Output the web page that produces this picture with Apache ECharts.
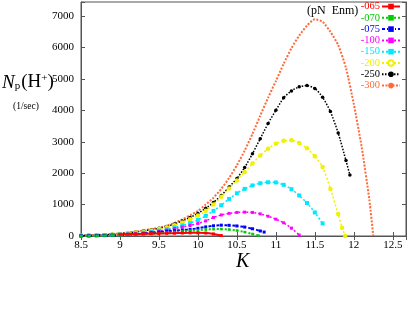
<!DOCTYPE html>
<html>
<head>
<meta charset="utf-8">
<script src="https://cdn.jsdelivr.net/npm/echarts@6/dist/echarts.min.js"></script>
<style>
  html, body { margin: 0; padding: 0; background: #fff; }
  #chart { width: 409px; height: 328px; }
</style>
</head>
<body>
<div id="chart"></div>
<script>
// K values and proton flux N_p(H+) (1/sec) for each (pN Enm) case
const k065 = [9.0, 9.1, 9.2, 9.3, 9.4, 9.5, 9.6, 9.7, 9.8, 9.9, 10.0, 10.1, 10.2, 10.3]
const n065 = [55, 60, 65, 70, 75, 80, 85, 90, 95, 100, 100, 95, 65, 15]

const k070 = [8.5, 8.6, 8.7, 8.8, 8.9, 9.0, 9.1, 9.2, 9.3, 9.4, 9.5, 9.6, 9.7, 9.8, 9.9, 10.0, 10.1, 10.2, 10.3, 10.4, 10.5, 10.6, 10.7, 10.78]
const n070 = [4, 6, 9, 13, 18, 24, 32, 42, 55, 70, 88, 105, 125, 145, 165, 185, 205, 218, 220, 205, 175, 125, 65, 10]

const k075 = [8.5, 8.6, 8.7, 8.8, 8.9, 9.0, 9.1, 9.2, 9.3, 9.4, 9.5, 9.6, 9.7, 9.8, 9.9, 10.0, 10.1, 10.2, 10.3, 10.4, 10.5, 10.6, 10.7, 10.8, 10.85]
const n075 = [5, 8, 12, 17, 23, 30, 40, 55, 75, 100, 125, 150, 170, 190, 210, 245, 290, 325, 345, 340, 320, 285, 230, 160, 125]

const k100 = [8.5, 8.6, 8.7, 8.8, 8.9, 9.0, 9.1, 9.2, 9.3, 9.4, 9.5, 9.6, 9.7, 9.8, 9.9, 10.0, 10.1, 10.2, 10.3, 10.4, 10.5, 10.6, 10.7, 10.8, 10.9, 11.0, 11.1, 11.2, 11.3]
const n100 = [6, 10, 15, 21, 29, 39, 52, 70, 92, 120, 152, 190, 235, 285, 335, 400, 480, 590, 670, 720, 750, 760, 750, 705, 630, 535, 420, 250, 30]

const k150 = [8.5, 8.6, 8.7, 8.8, 8.9, 9.0, 9.1, 9.2, 9.3, 9.4, 9.5, 9.6, 9.7, 9.8, 9.9, 10.0, 10.1, 10.2, 10.3, 10.4, 10.5, 10.6, 10.7, 10.8, 10.9, 11.0, 11.1, 11.2, 11.3, 11.4, 11.5, 11.6]
const n150 = [8, 13, 19, 27, 37, 50, 65, 84, 107, 135, 170, 215, 270, 335, 410, 510, 640, 800, 980, 1180, 1360, 1500, 1610, 1680, 1710, 1705, 1630, 1490, 1290, 1050, 750, 400]

const k200 = [8.5, 8.6, 8.7, 8.8, 8.9, 9.0, 9.1, 9.2, 9.3, 9.4, 9.5, 9.6, 9.7, 9.8, 9.9, 10.0, 10.1, 10.2, 10.3, 10.4, 10.5, 10.6, 10.7, 10.8, 10.9, 11.0, 11.1, 11.2, 11.3, 11.4, 11.5, 11.6, 11.7, 11.8, 11.85, 11.89]
const n200 = [10, 17, 25, 35, 48, 64, 84, 108, 138, 175, 220, 275, 345, 430, 530, 650, 800, 1000, 1250, 1510, 1770, 2040, 2310, 2560, 2780, 2940, 3030, 3050, 2960, 2790, 2540, 2200, 1500, 700, 260, 0]

const k250 = [8.5, 8.6, 8.7, 8.8, 8.9, 9.0, 9.1, 9.2, 9.3, 9.4, 9.5, 9.6, 9.7, 9.8, 9.9, 10.0, 10.1, 10.2, 10.3, 10.4, 10.5, 10.6, 10.7, 10.8, 10.9, 11.0, 11.1, 11.2, 11.3, 11.4, 11.5, 11.6, 11.7, 11.8, 11.9, 11.95]
const n250 = [12, 20, 30, 42, 56, 75, 97, 125, 160, 200, 245, 305, 385, 480, 590, 720, 880, 1070, 1290, 1560, 1830, 2180, 2620, 3100, 3580, 4000, 4400, 4620, 4750, 4790, 4700, 4420, 3960, 3280, 2400, 1940]

const k300 = [8.5, 8.6, 8.7, 8.8, 8.9, 9.0, 9.1, 9.2, 9.3, 9.4, 9.5, 9.6, 9.7, 9.8, 9.9, 10.0, 10.1, 10.2, 10.3, 10.4, 10.5, 10.6, 10.7, 10.8, 10.9, 11.0, 11.1, 11.2, 11.3, 11.4, 11.5, 11.6, 11.7, 11.8, 11.9, 12.0, 12.1, 12.2, 12.25]
const n300 = [15, 25, 35, 50, 65, 85, 110, 140, 175, 220, 265, 330, 420, 530, 660, 800, 1000, 1220, 1500, 1850, 2250, 2720, 3250, 3830, 4400, 4930, 5480, 5980, 6380, 6700, 6900, 6820, 6500, 6080, 5350, 4200, 2850, 1150, 0]

const names = ['-065', '-070', '-075', '-100', '-150', '-200', '-250', '-300']
const colors = ['#ff0000', '#00cc00', '#0000ff', '#ff00ff', '#00e8ff', '#f0f000', '#000000', '#ff6a3a']
const ks = [k065, k070, k075, k100, k150, k200, k250, k300]
const ns = [n065, n070, n075, n100, n150, n200, n250, n300]

const serif = 'Liberation Serif'

const looks = [
  { symbol: 'rect', symbolSize: 3, line: 'solid', width: 2 },
  { symbol: 'rect', symbolSize: 2.5, line: [2, 2], width: 2 },
  { symbol: 'rect', symbolSize: 3, line: [3, 2, 1, 2], width: 2 },
  { symbol: 'rect', symbolSize: 3, line: [2, 2], width: 1.5 },
  { symbol: 'rect', symbolSize: 4, line: [2, 2], width: 1.5 },
  { symbol: 'emptyCircle', symbolSize: 2.5, line: [2, 2], width: 1.5 },
  { symbol: 'circle', symbolSize: 3.5, line: [1.5, 1.5], width: 1.5 },
  { symbol: 'none', symbolSize: 0, line: [2, 1.5], width: 2 }
]

const chart = echarts.init(document.getElementById('chart'))

const axisLine = { lineStyle: { color: '#555', width: 1 } }
const tickIn = { inside: true, length: 4, lineStyle: { color: '#555' } }

chart.setOption({
  animation: false,
  backgroundColor: '#ffffff',
  grid: { left: 81, right: 3, top: 2, bottom: 92, show: true, borderColor: '#555', borderWidth: 1, backgroundColor: 'transparent' },
  legend: {
    orient: 'vertical',
    right: 8,
    top: 1,
    align: 'right',
    padding: 0,
    itemGap: 0.3,
    itemWidth: 18,
    itemHeight: 7,
    selectedMode: false,
    textStyle: { fontFamily: serif, fontSize: 10.5, lineHeight: 7, padding: [0, -3, 0, 0] },
    data: names.map((n, i) => ({ name: n, textStyle: { color: colors[i] } }))
  },
  graphic: [
    {
      type: 'text',
      left: 2,
      top: 73,
      style: {
        text: '{n|N}{s|p}{t|(H}{u|+}{t|)}',
        rich: {
          n: { fontFamily: serif, fontStyle: 'italic', fontSize: 19, fill: '#000', verticalAlign: 'bottom' },
          s: { fontFamily: serif, fontSize: 11, fill: '#000', verticalAlign: 'bottom', padding: [0, 1, 0, 0] },
          t: { fontFamily: serif, fontSize: 19, fill: '#000', verticalAlign: 'bottom' },
          u: { fontFamily: serif, fontSize: 11, fill: '#000', verticalAlign: 'top' }
        }
      }
    },
    {
      type: 'text',
      left: 13,
      top: 101,
      style: { text: '(1/sec)', font: '9.5px "Liberation Serif"', fill: '#000' }
    },
    {
      type: 'text',
      left: 236,
      top: 252,
      style: { text: 'K', font: 'italic 20px "Liberation Serif"', fill: '#000' }
    },
    {
      type: 'text',
      left: 307,
      top: 5,
      style: { text: '(pN  Enm)', font: '12px "Liberation Serif"', fill: '#000' }
    }
  ],
  xAxis: [
    {
      type: 'value',
      position: 'bottom',
      min: 8.5,
      max: 12.67,
      interval: 0.5,
      axisLine: axisLine,
      axisTick: tickIn,
      splitLine: { show: false },
      axisLabel: {
        fontFamily: serif,
        fontSize: 11,
        color: '#000',
        margin: 4,
        formatter: v => (Math.abs(v * 2 - Math.round(v * 2)) < 1e-6 ? String(v) : '')
      }
    },
    {
      type: 'value',
      position: 'top',
      min: 8.5,
      max: 12.67,
      interval: 0.5,
      axisLine: axisLine,
      axisTick: tickIn,
      splitLine: { show: false },
      axisLabel: { show: false }
    }
  ],
  yAxis: [
    {
      type: 'value',
      position: 'left',
      min: 0,
      max: 7450,
      interval: 1000,
      axisLine: { show: true, lineStyle: { color: '#555', width: 1 } },
      axisTick: { show: true, inside: true, length: 4, lineStyle: { color: '#555' } },
      splitLine: { show: false },
      axisLabel: {
        fontFamily: serif,
        fontSize: 11,
        color: '#000',
        margin: 7,
        formatter: v => (v % 1000 === 0 ? String(v) : '')
      }
    },
    {
      type: 'value',
      position: 'right',
      min: 0,
      max: 7450,
      interval: 1000,
      axisLine: { show: true, lineStyle: { color: '#555', width: 1 } },
      axisTick: { show: true, inside: true, length: 4, lineStyle: { color: '#555' } },
      splitLine: { show: false },
      axisLabel: { show: false }
    }
  ],
  series: names.map((n, i) => ({
    name: n,
    type: 'line',
    xAxisIndex: 0,
    yAxisIndex: 0,
    smooth: 0.2,
    clip: true,
    symbol: looks[i].symbol,
    symbolSize: looks[i].symbolSize,
    showSymbol: looks[i].symbol !== 'none',
    itemStyle: { color: colors[i], borderWidth: 1 },
    lineStyle: { color: colors[i], width: looks[i].width, type: looks[i].line },
    z: 10 - i,
    data: ks[i].map((k, j) => [k, ns[i][j]])
  }))
})
</script>
</body>
</html>
